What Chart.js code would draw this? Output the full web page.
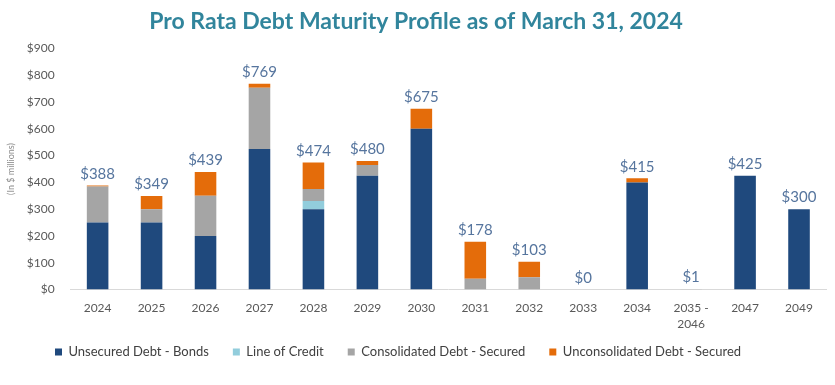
<!DOCTYPE html>
<html lang="en">
<head>
    <meta charset="UTF-8">
    <title>Debt Maturity Profile</title>
    <script src="https://cdn.jsdelivr.net/npm/chart.js"></script>
    <style>
        body { margin: 0; background: #fff; }
        #wrap { width: 835px; height: 385px; }
    </style>
</head>
<body>
    <div id="wrap"><canvas id="debtChart"></canvas></div>

    <script>
        // Données (en millions de $)
        const years = ['2024', '2025', '2026', '2027', '2028', '2029', '2030', '2031', '2032', '2033', '2034', ['2035 -', '2046'], '2047', '2049'];
        const unsecuredBonds = [250, 250, 200, 525, 300, 425, 600, 0, 0, 0, 400, 0, 425, 300];
        const lineOfCredit = [0, 0, 0, 0, 30, 0, 0, 0, 0, 0, 0, 0, 0, 0];
        const consolidatedSecured = [135, 50, 150, 229, 45, 40, 0, 40, 45, 0, 0, 1, 0, 0];
        const unconsolidatedSecured = [3, 49, 89, 15, 99, 15, 75, 138, 58, 0, 15, 0, 0, 0];
        const totals = [388, 349, 439, 769, 474, 480, 675, 178, 103, 0, 415, 1, 425, 300];
        const yTicks = [0, 100, 200, 300, 400, 500, 600, 700, 800, 900];

        const font = 'Lato, "Open Sans", sans-serif';

        // totaux au-dessus des barres + placement de la légende
        const totalLabels = {
            id: 'totalLabels',
            afterLayout(chart) {
                const lg = chart.legend;
                const h = lg.bottom - lg.top;
                lg.left += 25;
                lg.top = chart.chartArea.bottom + 32;
                lg.bottom = lg.top + h;
            },
            afterDatasetsDraw(chart) {
                const ctx = chart.ctx;
                const x = chart.scales.x;
                const y = chart.scales.y;
                ctx.save();
                ctx.font = '15px ' + font;
                ctx.fillStyle = '#56759e';
                ctx.textAlign = 'center';
                ctx.textBaseline = 'bottom';
                totals.forEach((t, i) => {
                    ctx.fillText('$' + t, x.getPixelForValue(i), y.getPixelForValue(t) - 4);
                });
                ctx.restore();
            }
        };

        const ctx = document.getElementById('debtChart').getContext('2d');
        new Chart(ctx, {
            type: 'bar',
            data: {
                labels: years,
                datasets: [
                    { label: 'Unsecured Debt - Bonds', data: unsecuredBonds, backgroundColor: '#1f497d' },
                    { label: 'Line of Credit', data: lineOfCredit, backgroundColor: '#92cddc' },
                    { label: 'Consolidated Debt - Secured', data: consolidatedSecured, backgroundColor: '#a5a5a5' },
                    { label: 'Unconsolidated Debt - Secured', data: unconsolidatedSecured, backgroundColor: '#e46c0a' }
                ]
            },
            options: {
                responsive: true,
                maintainAspectRatio: false,
                animation: false,
                datasets: { bar: { barPercentage: 0.8, categoryPercentage: 0.5 } },
                layout: { padding: { left: 6, right: 9, top: 0, bottom: 3 } },
                plugins: {
                    title: {
                        display: true,
                        text: 'Pro Rata Debt Maturity Profile as of March 31, 2024',
                        color: '#31859c',
                        font: { family: font, size: 23, weight: 'bold' },
                        padding: { top: 8, bottom: 13 }
                    },
                    legend: {
                        position: 'bottom',
                        align: 'start',
                        labels: {
                            boxWidth: 7,
                            boxHeight: 7,
                            padding: 24,
                            color: '#404040',
                            font: { family: font, size: 13 }
                        }
                    },
                    tooltip: { enabled: false }
                },
                scales: {
                    x: {
                        stacked: true,
                        grid: { display: false },
                        border: { color: '#d9d9d9' },
                        ticks: {
                            color: '#595959',
                            padding: 2,
                            font: { family: font, size: 12, lineHeight: 1.4 }
                        }
                    },
                    y: {
                        stacked: true,
                        min: 0,
                        max: 900,
                        grid: { display: false },
                        border: { display: false },
                        afterBuildTicks(axis) {
                            axis.ticks = yTicks.map(v => ({ value: v }));
                        },
                        ticks: {
                            color: '#595959',
                            font: { family: font, size: 12 },
                            padding: 8,
                            callback: v => '$' + v
                        },
                        title: {
                            display: true,
                            text: '(In $ millions)',
                            color: '#8c8c8c',
                            font: { family: font, size: 9 },
                            padding: { top: 0, bottom: 2 }
                        }
                    }
                }
            },
            plugins: [totalLabels]
        });
    </script>
</body>
</html>
